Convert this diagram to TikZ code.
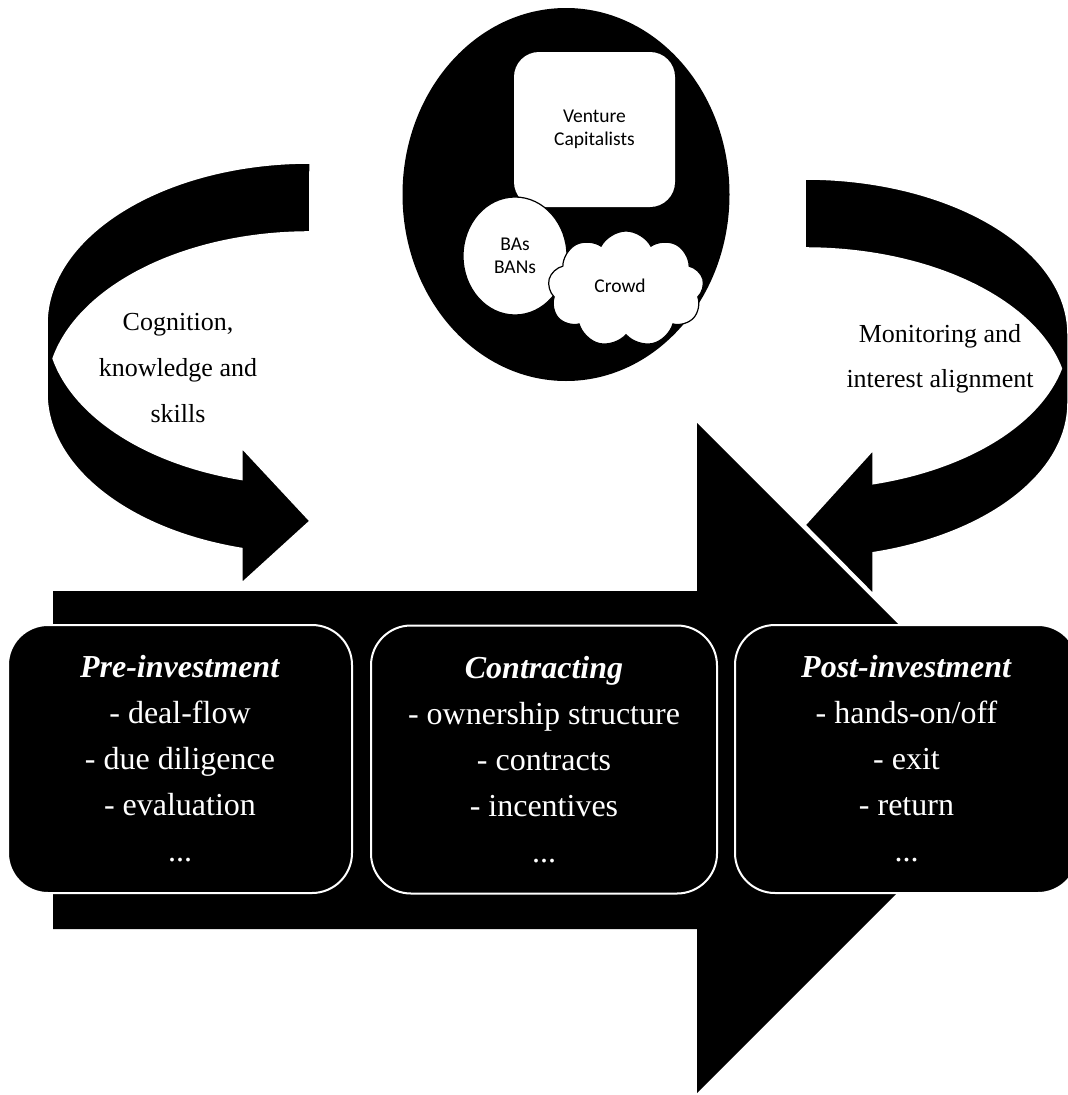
\documentclass[tikz,border=0pt]{standalone}
\usepackage{fontspec}
\setmainfont{Liberation Serif}
\newfontfamily\calfont{Carlito}
\usetikzlibrary{shapes.geometric,shapes.symbols}

\begin{document}
\begin{tikzpicture}[x=1pt,y=-1pt,
  phasebox/.style={rectangle, draw=white, fill=black, line width=2pt, rounded corners=40pt,
    text=white, align=center, font=\fontsize{32}{46}\selectfont, inner sep=0pt, minimum height=268pt},
  flowlabel/.style={align=center, font=\fontsize{26}{46}\selectfont, text=black, inner sep=0pt},
  actorlabel/.style={align=center, font=\calfont\fontsize{19.5}{23}\selectfont, inner sep=0pt},
  curvedarrow/.style={fill=black, draw=white, line width=1.5pt},
]
\useasboundingbox (0,0) rectangle (1068,1095);
\clip (0,0) rectangle (1068,1095);

% big process arrow
\fill[black] (53,591) -- (697,591) -- (697,423) -- (1032,758) -- (697,1093) -- (697,929) -- (53,929) -- cycle;

% left curved arrow
\path[curvedarrow] (310,163) arc[start angle=270, end angle=180, x radius=263, y radius=161]
  -- (47,393) arc[start angle=180, end angle=105, x radius=263, y radius=161]
  -- (241.9,583) -- (310,521) -- (241.9,448) -- (241.9,479.5)
  arc[start angle=105, end angle=167.63, x radius=263, y radius=161]
  arc[start angle=192.37, end angle=270, x radius=263, y radius=161]
  -- cycle;

% right curved arrow
\path[curvedarrow] (805,179) arc[start angle=270, end angle=360, x radius=263, y radius=155]
  -- (1068,403) arc[start angle=0, end angle=75, x radius=263, y radius=155]
  -- (873.1,594) -- (805,525) -- (873.1,450) -- (873.1,483.7)
  arc[start angle=75, end angle=12.86, x radius=263, y radius=155]
  arc[start angle=-12.86, end angle=-90, x radius=263, y radius=155]
  -- cycle;

% investor pool
\node[ellipse, fill=black, minimum width=327pt, minimum height=373pt, inner sep=0pt] (pool) at (566,194.5) {};
\node[rectangle, fill=white, rounded corners=25pt, minimum width=161pt, minimum height=155pt, actorlabel] (vc) at (594.5,129.5) {Venture\\Capitalists};
\node[ellipse, fill=white, draw=black, line width=1.2pt, minimum width=104pt, minimum height=118pt, actorlabel] (ba) at (515,256) {BAs\\BANs};
\node[cloud, cloud puffs=9, cloud puff arc=125, aspect=1.34, fill=white, draw=black, line width=1.2pt, minimum width=156pt, minimum height=116pt, inner sep=0pt] (crowd) at (626,289) {};
\node[actorlabel] (crowdtext) at (620,286) {Crowd};

% labels of curved arrows
\node[flowlabel] (cog) at (178,368) {Cognition,\\knowledge and\\skills};
\node[flowlabel, font=\fontsize{26}{45}\selectfont] (mon) at (940,358.5) {Monitoring and\\interest alignment};

% phase boxes
\node[phasebox, minimum width=344pt] (pre) at (180,759) {\textbf{\textit{Pre-investment}}\\- deal-flow\\- due diligence\\- evaluation\\...};
\node[phasebox, minimum width=346pt] (con) at (544,759.5) {\textbf{\textit{Contracting}}\\- ownership structure\\- contracts\\- incentives\\...};
\node[phasebox, minimum width=343pt] (post) at (906.5,759) {\textbf{\textit{Post-investment}}\\- hands-on/off\\- exit\\- return\\...};
\end{tikzpicture}
\end{document}
